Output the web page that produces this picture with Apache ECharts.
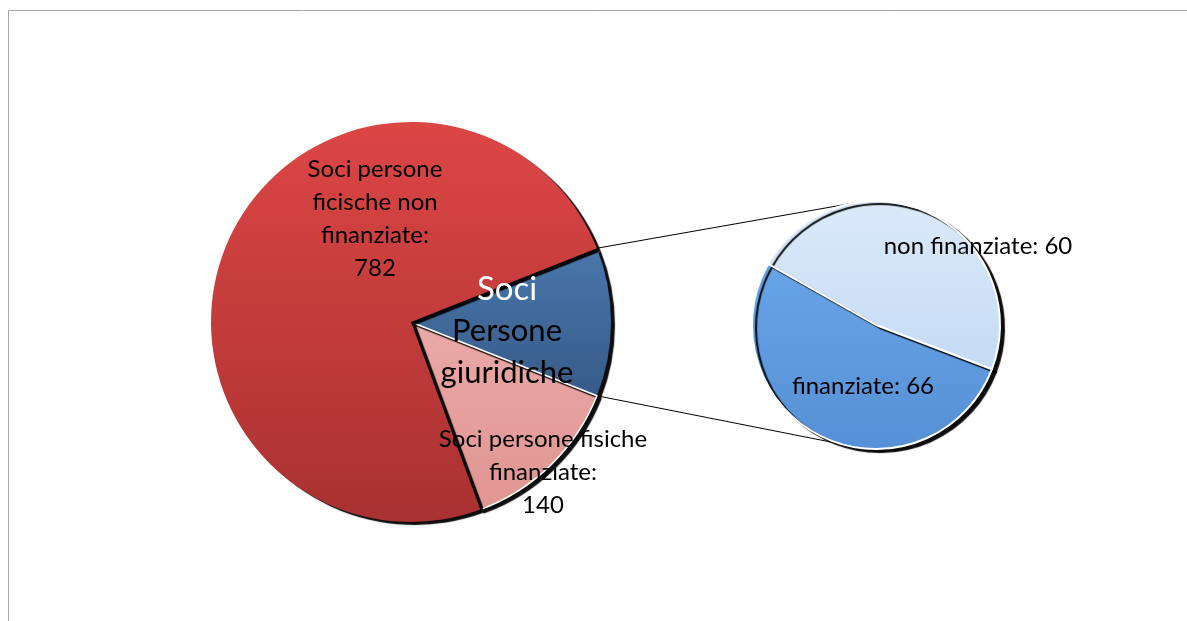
<!DOCTYPE html>
<html>
<head>
<meta charset="utf-8">
<script src="https://cdn.jsdelivr.net/npm/echarts@6/dist/echarts.min.js"></script>
<style>
  html, body { margin: 0; padding: 0; background: #fff; }
  #chart { width: 1187px; height: 621px; }
</style>
</head>
<body>
<div id="chart"></div>
<script>
// main pie: legal persons first so it sits on the right, then the two natural-person slices
const mainNames = ['Soci Persone giuridiche', 'Soci persone fisiche finanziate', 'Soci persone ficische non finanziate']
const mainValues = [126, 140, 782]
// secondary pie breaks down the legal persons slice
const subNames = ['non finanziate', 'finanziate']
const subValues = [60, 66]

const mainCenter = [411, 322]
const mainRadius = 200
const subCenter = [876, 325]
const subRadius = 124

const font = 'Lato, "Open Sans", sans-serif'

function grad(top, bottom) {
  return new echarts.graphic.LinearGradient(0, 0, 0, 1, [
    { offset: 0, color: top },
    { offset: 1, color: bottom }
  ])
}

const mainColors = [grad('#4a76ab', '#365b88'), grad('#eaa9a7', '#e09592'), grad('#dc4645', '#a93131')]
const mainBorders = [0, 1.5, 0]
const subColors = [grad('#dbe9fa', '#c5dcf5'), grad('#67a4e6', '#5690d6')]

const mainTotal = mainValues.reduce((a, b) => a + b, 0)
const halfAngle = mainValues[0] / mainTotal * 180

const mainLabelPos = [[507, 331], [543, 472], [375, 219]]
const subLabelPos = [[978, 246], [863, 386]]

const shadow = { shadowColor: 'rgba(0,0,0,0.95)', shadowBlur: 1, shadowOffsetX: 4, shadowOffsetY: 3 }

function pt(c, r, deg) {
  const a = deg * Math.PI / 180
  return [c[0] + r * Math.cos(a), c[1] - r * Math.sin(a)]
}

const topA = pt(mainCenter, mainRadius, halfAngle)
const botA = pt(mainCenter, mainRadius, -halfAngle)
const topB = pt(subCenter, subRadius, 100)
const botB = pt(subCenter, subRadius, -106)

const chart = echarts.init(document.getElementById('chart'))

chart.setOption({
  animation: false,
  graphic: [
    {
      type: 'rect',
      shape: { x: 8.5, y: 10.5, width: 1200, height: 700 },
      style: { fill: 'none', stroke: '#a6a6a6', lineWidth: 1 },
      z: -1
    },
    { type: 'line', shape: { x1: topA[0], y1: topA[1], x2: topB[0], y2: topB[1] }, style: { stroke: '#000', lineWidth: 1 }, z: -1 },
    { type: 'line', shape: { x1: botA[0], y1: botA[1], x2: botB[0], y2: botB[1] }, style: { stroke: '#000', lineWidth: 1 }, z: -1 }
  ],
  series: [
    {
      type: 'pie',
      center: mainCenter,
      radius: mainRadius,
      startAngle: halfAngle,
      clockwise: true,
      silent: true,
      data: mainValues.map((v, i) => ({
        name: mainNames[i],
        value: v,
        itemStyle: { color: mainColors[i], borderWidth: mainBorders[i] }
      })),
      itemStyle: Object.assign({ borderColor: '#fff' }, shadow),
      label: {
        show: true,
        position: 'inside',
        fontFamily: font,
        fontSize: 24,
        lineHeight: 33,
        color: '#000',
        align: 'center',
        formatter: (p) => {
          if (p.dataIndex === 0) return '{w|Soci}\n{b|Persone}\n{b|giuridiche}'
          if (p.dataIndex === 1) return 'Soci persone fisiche\nfinanziate:\n' + p.value
          return 'Soci persone\nficische non\nfinanziate:\n' + p.value
        },
        rich: {
          w: { color: '#fff', fontSize: 33, lineHeight: 42, fontFamily: font },
          b: { color: '#000', fontSize: 31, lineHeight: 42, fontFamily: font }
        }
      },
      labelLayout: (p) => ({
        x: mainLabelPos[p.dataIndex][0],
        y: mainLabelPos[p.dataIndex][1],
        align: 'center',
        verticalAlign: 'middle'
      }),
      labelLine: { show: false }
    },
    {
      type: 'pie',
      center: subCenter,
      radius: subRadius,
      startAngle: 150.5,
      clockwise: true,
      silent: true,
      data: subValues.map((v, i) => ({
        name: subNames[i],
        value: v,
        itemStyle: { color: subColors[i] }
      })),
      itemStyle: Object.assign({ borderColor: '#fff', borderWidth: 2 }, shadow),
      label: {
        show: true,
        position: 'inside',
        fontFamily: font,
        fontSize: 24,
        color: '#000',
        formatter: '{b}: {c}'
      },
      labelLayout: (p) => ({
        x: subLabelPos[p.dataIndex][0],
        y: subLabelPos[p.dataIndex][1],
        align: 'center',
        verticalAlign: 'middle'
      }),
      labelLine: { show: false }
    }
  ]
})
</script>
</body>
</html>
